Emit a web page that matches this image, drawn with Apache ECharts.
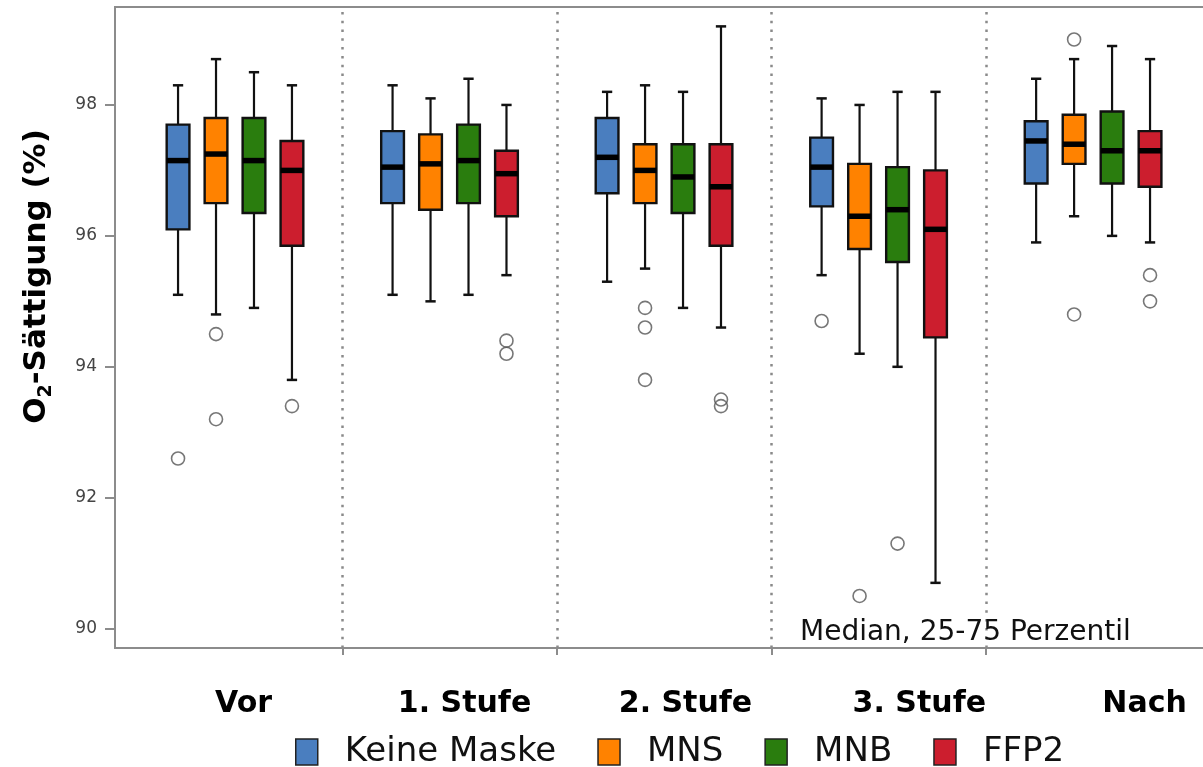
<!DOCTYPE html>
<html>
<head>
<meta charset="utf-8">
<script src="https://cdn.jsdelivr.net/npm/echarts@6/dist/echarts.min.js"></script>
<style>
html,body{margin:0;padding:0;background:#fff;}
#chart{width:1203px;height:767px;}
</style>
</head>
<body>
<div id="chart"></div>
<script>
// ---- data ----
const categories = ['Vor', '1. Stufe', '2. Stufe', '3. Stufe', 'Nach'];
const seriesNames = ['Keine Maske', 'MNS', 'MNB', 'FFP2'];
const yTicks = [90, 92, 94, 96, 98];
// [min, q1, median, q3, max] per category
const keineMaske = [[95.1, 96.1, 97.15, 97.7, 98.3], [95.1, 96.5, 97.05, 97.6, 98.3], [95.3, 96.65, 97.2, 97.8, 98.2], [95.4, 96.45, 97.05, 97.5, 98.1], [95.9, 96.8, 97.45, 97.75, 98.4]];
const mns = [[94.8, 96.5, 97.25, 97.8, 98.7], [95.0, 96.4, 97.1, 97.55, 98.1], [95.5, 96.5, 97.0, 97.4, 98.3], [94.2, 95.8, 96.3, 97.1, 98.0], [96.3, 97.1, 97.4, 97.85, 98.7]];
const mnb = [[94.9, 96.35, 97.15, 97.8, 98.5], [95.1, 96.5, 97.15, 97.7, 98.4], [94.9, 96.35, 96.9, 97.4, 98.2], [94.0, 95.6, 96.4, 97.05, 98.2], [96.0, 96.8, 97.3, 97.9, 98.9]];
const ffp2 = [[93.8, 95.85, 97.0, 97.45, 98.3], [95.4, 96.3, 96.95, 97.3, 98.0], [94.6, 95.85, 96.75, 97.4, 99.2], [90.7, 94.45, 96.1, 97.0, 98.2], [95.9, 96.75, 97.3, 97.6, 98.7]];
// outliers: [category index, value]
const keineMaskeOut = [[0, 92.6], [3, 94.7]];
const mnsOut = [[0, 94.5], [0, 93.2], [2, 94.9], [2, 94.6], [2, 93.8], [3, 90.5], [4, 99.0], [4, 94.8]];
const mnbOut = [[3, 91.3]];
const ffp2Out = [[0, 93.4], [1, 94.4], [1, 94.2], [2, 93.5], [2, 93.4], [4, 95.4], [4, 95.0]];
const noteText = 'Median, 25-75 Perzentil';

// ---- styling / layout ----
const colors = ['#4a7ebf', '#ff8200', '#2a7d0e', '#cc1e2e'];
const boxStats = [keineMaske, mns, mnb, ffp2];
const outStats = [keineMaskeOut, mnsOut, mnbOut, ffp2Out];
const slotStep = 0.177;           // fraction of a group between boxes
const labelShift = [0.04, 0.07, 0.1, 0.19, 0.24];
const font = '"DejaVu Sans", sans-serif';

function makeRender(k) {
  const off = (k - 1.5) * slotStep;
  return function (params, api) {
    const xv = api.value(0) + 0.5 + off;
    const pMin = api.coord([xv, api.value(1)]);
    const yQ1 = api.coord([xv, api.value(2)])[1];
    const yMed = api.coord([xv, api.value(3)])[1];
    const yQ3 = api.coord([xv, api.value(4)])[1];
    const yMax = api.coord([xv, api.value(5)])[1];
    const cx = pMin[0];
    const band = api.size([1, 0])[0];
    const hw = band * 0.053;
    const cw = band * 0.024;
    return {
      type: 'group',
      children: [
        { type: 'line', shape: { x1: cx, y1: yMax, x2: cx, y2: pMin[1] }, style: { stroke: '#111', lineWidth: 2.2 } },
        { type: 'line', shape: { x1: cx - cw, y1: yMax, x2: cx + cw, y2: yMax }, style: { stroke: '#111', lineWidth: 2.5 } },
        { type: 'line', shape: { x1: cx - cw, y1: pMin[1], x2: cx + cw, y2: pMin[1] }, style: { stroke: '#111', lineWidth: 2.5 } },
        { type: 'rect', shape: { x: cx - hw, y: yQ3, width: 2 * hw, height: yQ1 - yQ3 }, style: { fill: colors[k], stroke: '#111', lineWidth: 2.4 } },
        { type: 'line', shape: { x1: cx - hw, y1: yMed, x2: cx + hw, y2: yMed }, style: { stroke: '#000', lineWidth: 5.5 } }
      ]
    };
  };
}

const series = [];
seriesNames.forEach((name, k) => {
  const s = {
    name: name,
    type: 'custom',
    renderItem: makeRender(k),
    itemStyle: { color: colors[k], borderColor: '#222', borderWidth: 1.5 },
    encode: { x: 0, y: [1, 2, 3, 4, 5] },
    data: boxStats[k].map((d, i) => [i].concat(d)),
    z: 3
  };
  if (k === 0) {
    s.markLine = {
      symbol: 'none',
      silent: true,
      label: { show: false },
      lineStyle: { type: [2.5, 6.3], color: '#8a8a8a', width: 2.5 },
      data: [1, 2, 3, 4].map(v => ({ xAxis: v }))
    };
  }
  series.push(s);
});
outStats.forEach((arr, k) => {
  const off = (k - 1.5) * slotStep;
  series.push({
    name: seriesNames[k] + ' Ausreißer',
    type: 'scatter',
    symbol: 'circle',
    symbolSize: 13,
    itemStyle: { color: 'rgba(255,255,255,0)', borderColor: '#555', borderWidth: 1.6 },
    data: arr.map(([i, v]) => [i + 0.5 + off, v]),
    z: 4
  });
});

const chart = echarts.init(document.getElementById('chart'), null, { renderer: 'canvas' });
chart.setOption({
  animation: false,
  backgroundColor: '#fff',
  textStyle: { fontFamily: font },
  title: {
    text: noteText,
    left: 795,
    top: 614,
    textStyle: { fontFamily: font, fontSize: 28, fontWeight: 'normal', color: '#111' }
  },
  legend: {
    data: seriesNames,
    left: 290,
    top: 730,
    icon: 'rect',
    itemWidth: 22,
    itemHeight: 26,
    itemGap: 41,
    textStyle: { fontFamily: font, fontSize: 34, color: '#111', padding: [0, 0, 0, 22] },
    itemStyle: { borderColor: '#222', borderWidth: 1.5 }
  },
  grid: { left: 115, top: 7, right: -10, bottom: 119, show: true, borderColor: '#8c8c8c', borderWidth: 2, outerBoundsMode: 'none' },
  xAxis: {
    type: 'value',
    min: -0.0594,
    max: 5.059,
    axisLine: { show: true, onZero: false, lineStyle: { color: '#8c8c8c', width: 2 } },
    axisTick: { show: true, customValues: [1, 2, 3, 4], length: 7, lineStyle: { color: '#8c8c8c', width: 2 } },
    axisLabel: {
      customValues: categories.map((c, i) => i + 0.5 + labelShift[i]),
      formatter: v => categories[Math.floor(v)],
      margin: 41,
      fontFamily: font,
      fontSize: 30,
      fontWeight: 'bold',
      color: '#000'
    },
    splitLine: { show: false }
  },
  yAxis: {
    type: 'value',
    min: 89.705,
    max: 99.496,
    name: '{a|O}{b|2}{a|-Sättigung (%)}',
    nameLocation: 'middle',
    nameGap: 59,
    nameRotate: 90,
    nameTextStyle: {
      padding: [0, 0, 0, 102],
      rich: {
        a: { fontFamily: font, fontSize: 31, fontWeight: 'bold', color: '#000', lineHeight: 38 },
        b: { fontFamily: font, fontSize: 19, fontWeight: 'bold', color: '#000', verticalAlign: 'bottom', lineHeight: 18 }
      }
    },
    axisLine: { show: true, onZero: false, lineStyle: { color: '#8c8c8c', width: 2 } },
    axisTick: { show: true, customValues: yTicks, length: 10, lineStyle: { color: '#8c8c8c', width: 2 } },
    axisLabel: { customValues: yTicks, fontFamily: font, fontSize: 17, color: '#444', margin: 18 },
    splitLine: { show: false }
  },
  series: series
});
</script>
</body>
</html>
